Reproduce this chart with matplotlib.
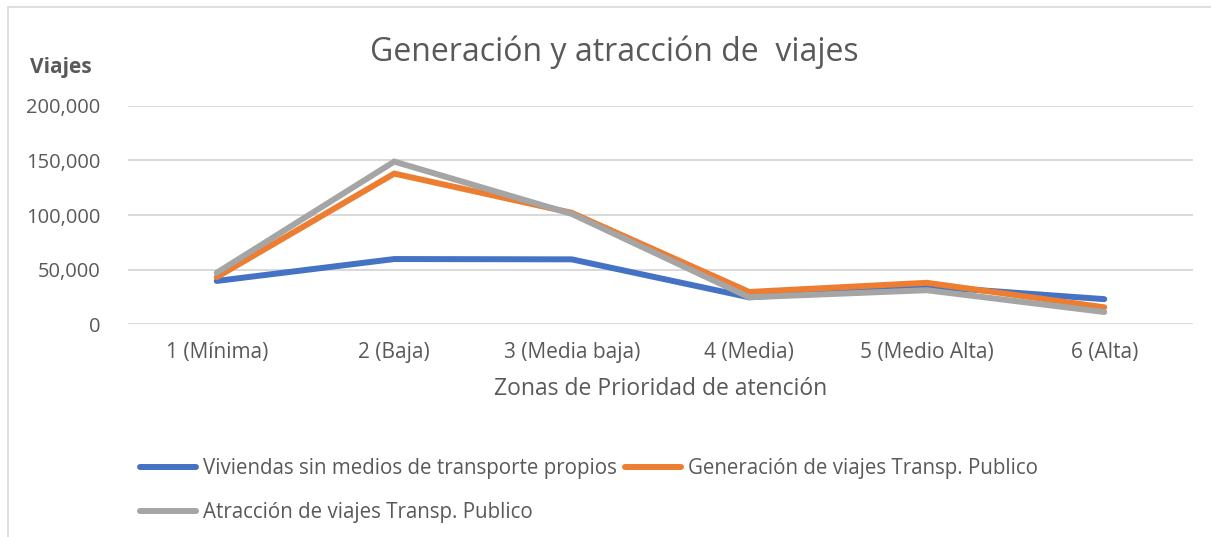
import matplotlib.pyplot as plt
from matplotlib.patches import Rectangle
from matplotlib.ticker import FuncFormatter

plt.rcParams['font.family'] = ['Open Sans', 'DejaVu Sans']

# data
zonas = ['1 (Mínima)', '2 (Baja)', '3 (Media baja)', '4 (Media)',
         '5 (Medio Alta)', '6 (Alta)']
viviendas = [39500, 59600, 59300, 24500, 34500, 22800]
generacion = [43000, 138000, 102000, 29400, 37800, 15300]
atraccion = [47000, 149000, 101000, 24500, 31000, 11000]

series_names = ['Viviendas sin medios de transporte propios',
                'Generación de viajes Transp. Publico',
                'Atracción de viajes Transp. Publico']
colors = ['#4472C4', '#ED7D31', '#A5A5A5']
text_col = '#595959'

W, H = 1211, 537
fig = plt.figure(figsize=(W / 100, H / 100), dpi=100)

# chart frame
fig.patches.append(Rectangle((8 / W, -0.1), 1.2, 1 - 7 / H + 0.1,
                             transform=fig.transFigure, fill=False,
                             edgecolor='#d9d9d9', linewidth=1.2))

ax = fig.add_axes([128 / W, 1 - 324 / H, (1193 - 128) / W, (324 - 106) / H])

x = range(len(zonas))
lines = []
for vals, name, c in zip([viviendas, generacion, atraccion], series_names, colors):
    ln, = ax.plot(x, vals, color=c, linewidth=4.3, label=name,
                  solid_capstyle='round', solid_joinstyle='miter')
    lines.append(ln)

ax.set_xlim(-0.5, len(zonas) - 0.5)
ax.set_ylim(0, 200000)
ax.set_yticks([0, 50000, 100000, 150000, 200000])
ax.yaxis.set_major_formatter(FuncFormatter(lambda v, p: f'{int(v):,}'))
ax.set_xticks(list(x))
ax.set_xticklabels(zonas)
ax.grid(axis='y', color='#d9d9d9', linewidth=1.4)
ax.set_axisbelow(True)
for s in ax.spines.values():
    s.set_visible(False)
ax.tick_params(length=0, labelcolor=text_col)
ax.tick_params(axis='x', pad=13, labelsize=15)
ax.tick_params(axis='y', pad=20, labelsize=14.5)

ax.set_xlabel('Zonas de Prioridad de atención', fontsize=16.5, color=text_col,
              labelpad=10)

fig.text(614 / W, 1 - 52 / H, 'Generación y atracción de  viajes',
         ha='center', va='center', fontsize=23, color=text_col)
fig.text(30 / W, 1 - 68 / H, 'Viajes', ha='left', va='center',
         fontsize=15, fontweight='bold', color=text_col)

# legend fills row by row in the reference: order for column-major fill
order = [0, 2, 1]
fig.legend([lines[i] for i in order], [series_names[i] for i in order],
           loc='upper left', bbox_to_anchor=(132 / W, 1 - 450 / H), ncol=2,
           frameon=False, fontsize=14.8, labelcolor=text_col,
           handlelength=2.7, handletextpad=0.35, columnspacing=0.4,
           labelspacing=1.1, borderaxespad=0)

fig.savefig('out.png', dpi=100, facecolor='white')
